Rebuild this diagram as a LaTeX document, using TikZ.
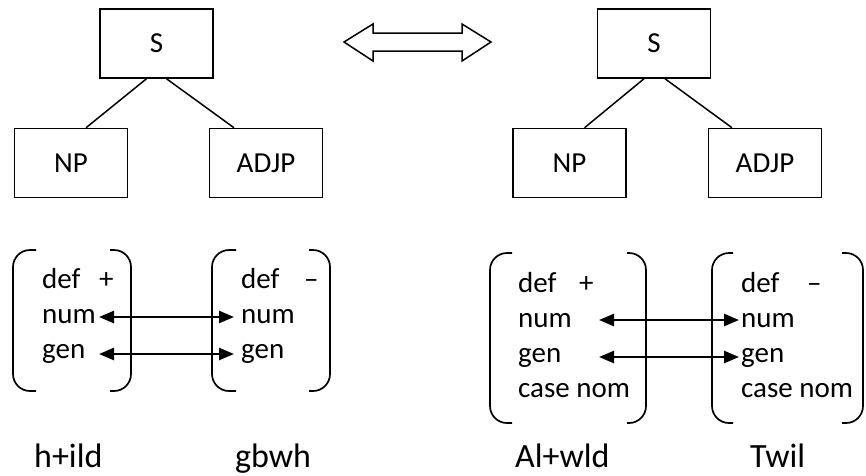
\documentclass[tikz,border=0pt]{standalone}
\usepackage{fontspec}
\setmainfont{Carlito}
\usetikzlibrary{arrows.meta}
\begin{document}
\begin{tikzpicture}[x=1pt,y=-1pt,
  catbox/.style={draw,line width=1.5pt,minimum width=113pt,minimum height=69pt,
    inner sep=0pt,font=\fontsize{29}{35}\selectfont},
  branch/.style={line width=1.5pt},
  feat/.style={anchor=base west,inner sep=0pt,font=\fontsize{29}{35}\selectfont},
  word/.style={anchor=base west,inner sep=0pt,font=\fontsize{34}{40}\selectfont},
  brack/.style={line width=1.7pt,rounded corners=17pt},
  agree/.style={line width=2.5pt,{Triangle[length=15pt,width=12pt]}-{Triangle[length=15pt,width=12pt]}},
  bigarrow/.style={draw,line width=1.5pt,line join=miter}]
\useasboundingbox (0,0) rectangle (866,475);

% left tree
\node[catbox] (S1) at (156.5,43.5) {S};
\node[catbox] (NP1) at (71,163) {NP};
\node[catbox] (AJ1) at (266,163) {ADJP};
\draw[branch] ([xshift=-10pt]S1.south) -- ([xshift=15pt]NP1.north);
\draw[branch] ([xshift=10pt]S1.south) -- ([xshift=-32pt]AJ1.north);

% right tree
\node[catbox] (S2) at (654,43.5) {S};
\node[catbox] (NP2) at (569.5,163) {NP};
\node[catbox] (AJ2) at (765,163) {ADJP};
\draw[branch] ([xshift=-10pt]S2.south) -- ([xshift=15pt]NP2.north);
\draw[branch] ([xshift=11pt]S2.south) -- ([xshift=-33pt]AJ2.north);

% hollow double arrow between the trees
\draw[bigarrow] (344,42) -- (373,24) -- (373,33) -- (462,33) -- (462,24) -- (491,42)
  -- (462,61) -- (462,51) -- (373,51) -- (373,61) -- cycle;

% feature brackets, left pair
\draw[brack] (36,250) -- (13,250) -- (13,391) -- (36,391);
\draw[brack] (110,250) -- (131,250) -- (131,391) -- (110,391);
\draw[brack] (236,250) -- (212,250) -- (212,391) -- (236,391);
\draw[brack] (309,250) -- (330,250) -- (330,391) -- (309,391);

\node[feat] (d1) at (42,288) {def};
\node[feat] (p1) at (99,288) {+};
\node[feat] (n1) at (42,323) {num};
\node[feat] (g1) at (42,358) {gen};
\node[feat] (d2) at (241,288) {def};
\node[feat] (m2) at (304,288) {–};
\node[feat] (n2) at (241,323) {num};
\node[feat] (g2) at (241,358) {gen};

\coordinate (a1) at (99,317);
\coordinate (b1) at (234,317);
\coordinate (a2) at (99,354);
\coordinate (b2) at (234,354);
\draw[agree] (a1) -- (b1);
\draw[agree] (a2) -- (b2);

% feature brackets, right pair
\draw[brack] (512,253) -- (490,253) -- (490,423) -- (512,423);
\draw[brack] (627,253) -- (646,253) -- (646,423) -- (627,423);
\draw[brack] (733,253) -- (712,253) -- (712,423) -- (733,423);
\draw[brack] (842,253) -- (863,253) -- (863,423) -- (842,423);

\node[feat] (d3) at (518,292) {def};
\node[feat] (p3) at (579,292) {+};
\node[feat] (n3) at (518,327) {num};
\node[feat] (g3) at (518,362) {gen};
\node[feat] (c3) at (518,397) {case nom};
\node[feat] (d4) at (741,292) {def};
\node[feat] (m4) at (807,292) {–};
\node[feat] (n4) at (741,327) {num};
\node[feat] (g4) at (741,362) {gen};
\node[feat] (c4) at (741,397) {case nom};

\coordinate (a3) at (599,320);
\coordinate (b3) at (739,320);
\coordinate (a4) at (599,357);
\coordinate (b4) at (739,357);
\draw[agree] (a3) -- (b3);
\draw[agree] (a4) -- (b4);

% words
\node[word] (w1) at (34,467) {h+ild};
\node[word] (w2) at (235,467) {gbwh};
\node[word] (w3) at (515,467) {Al+wld};
\node[word] (w4) at (750,467) {Twil};
\end{tikzpicture}
\end{document}
